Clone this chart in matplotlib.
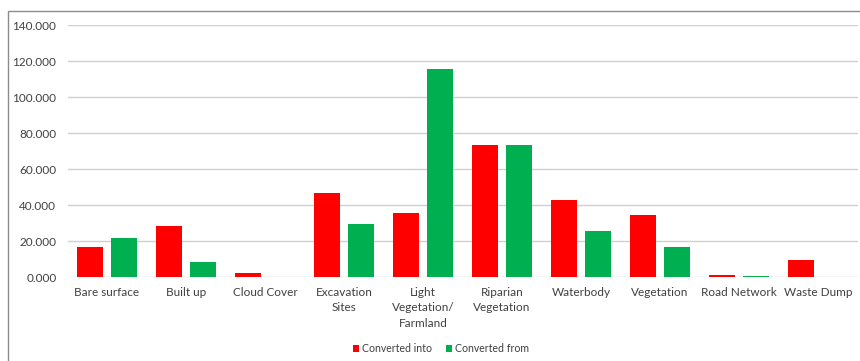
import matplotlib
matplotlib.use("Agg")
import matplotlib.pyplot as plt
import numpy as np
from matplotlib.patches import Rectangle

categories = ["Bare surface", "Built up", "Cloud Cover", "Excavation\nSites",
              "Light\nVegetation/\nFarmland", "Riparian\nVegetation", "Waterbody",
              "Vegetation", "Road Network", "Waste Dump"]
converted_into = [16.7, 28.1, 2.4, 46.7, 35.4, 73.5, 43.0, 34.3, 0.9, 9.3]
converted_from = [21.8, 8.1, 0.0, 29.3, 115.4, 73.5, 25.6, 16.5, 0.5, 0.0]
yticks = [0, 20, 40, 60, 80, 100, 120, 140]

plt.rcParams["font.family"] = ["Lato", "DejaVu Sans"]

W, H = 860, 361
fig = plt.figure(figsize=(W / 100, H / 100), dpi=100)

# chart frame
fig.patches.append(Rectangle((7.5 / W, -0.1), 1.2, (H - 11) / H + 0.1,
                             transform=fig.transFigure, fill=False,
                             edgecolor="#8c8c8c", linewidth=1.0))

ax = fig.add_axes([67.5 / W, 84 / H, 790 / W, 252 / H])
x = np.arange(len(categories))
bw = 0.33
off = 0.21
ax.bar(x - off, converted_into, bw, color="#FF0000", label="Converted into", zorder=3)
ax.bar(x + off, converted_from, bw, color="#00B050", label="Converted from", zorder=3)

ax.set_xlim(-0.5, len(categories) - 0.5)
ax.set_ylim(0, 140)
ax.set_yticks(yticks)
ax.set_yticklabels([f"{v:.3f}" for v in yticks], fontsize=8.5, color="#404040")
ax.set_xticks(x)
ax.set_xticklabels(categories, fontsize=8.5, color="#404040", linespacing=1.5)
ax.tick_params(axis="both", length=0)
ax.tick_params(axis="y", pad=8)
ax.tick_params(axis="x", pad=7)
for s in ax.spines.values():
    s.set_visible(False)
ax.yaxis.grid(True, color="#d0d0d0", linewidth=1.0, zorder=0)
ax.set_axisbelow(True)

fig.legend(loc="center", bbox_to_anchor=(441 / W, 1 - 349 / H), ncol=2,
           frameon=False, fontsize=7.6, handlelength=0.6, handleheight=0.6,
           handletextpad=0.3, columnspacing=1.3, labelcolor="#404040")

fig.savefig("out.png", dpi=100)
